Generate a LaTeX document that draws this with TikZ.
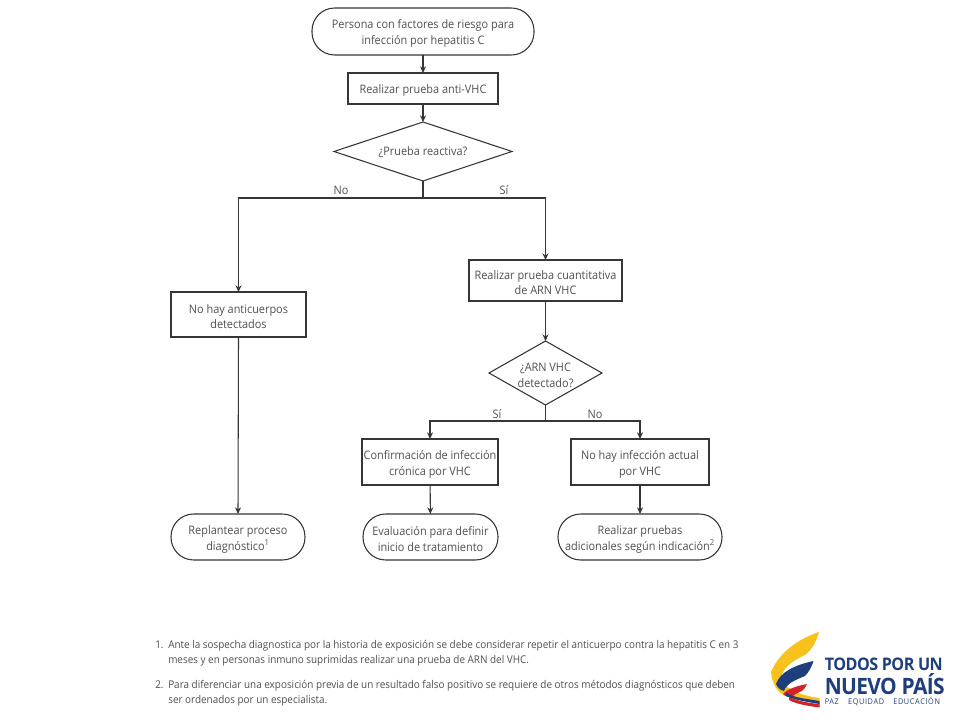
\documentclass[tikz,border=0pt]{standalone}
\usepackage{fontspec}
\usetikzlibrary{shapes.geometric,arrows.meta}
\setmainfont[FakeStretch=0.93]{Open Sans}
\definecolor{ink}{HTML}{363636}
\definecolor{txt}{HTML}{505050}
\definecolor{logoblue}{HTML}{1F3F7C}
\definecolor{logoyellow}{HTML}{F7C21C}
\definecolor{logored}{HTML}{D2232A}
\newcommand{\dn}{\rule{0pt}{10pt}}
\tikzset{
  x=0.75pt,y=-0.75pt,
  base/.style={draw=ink,line width=0.8pt,fill=white,text=txt,align=center,font=\fontsize{8.8pt}{11.8pt}\selectfont,inner sep=0pt,outer sep=0pt},
  boxnode/.style={base,rectangle},
  termnode/.style={base,rectangle,rounded corners=17pt},
  conn/.style={draw=ink,line width=0.8pt},
  arrow/.style={conn,-{Stealth[length=5pt,width=4.5pt]}},
  branch/.style={text=txt,font=\fontsize{8.8pt}{11pt}\selectfont,inner sep=0pt},
  note/.style={text=txt,anchor=base west,inner sep=0pt,font=\fontsize{8pt}{9pt}\selectfont},
}
\newcommand{\sized}[5]{\node[#1,minimum width=#4*0.75pt,minimum height=#5*0.75pt] (#2) at #3}
\begin{document}
\begin{tikzpicture}
\useasboundingbox (0,0) rectangle (960,720);
\fill[white] (0,0) rectangle (960,720);

\sized{termnode}{start}{(423,31.5)}{222}{47} {\dn Persona con factores de riesgo para\\infección por hepatitis C};
\sized{boxnode}{anti}{(423,88.5)}{150}{31} {\dn Realizar prueba anti-VHC};
\draw[base] (423,122) -- (512,151.5) -- (423,181) -- (334,151.5) -- cycle;
\node[text=txt,font=\fontsize{8.8pt}{11pt}\selectfont,inner sep=0pt] (d1) at (423,152.5) {¿Prueba reactiva?};
\coordinate (d1t) at (423,122);
\coordinate (d1b) at (423,181);
\coordinate (j1) at (423,198);

\sized{boxnode}{noac}{(238.5,314.5)}{135}{45} {\dn No hay anticuerpos\\detectados};
\sized{boxnode}{cuant}{(545.5,280.5)}{153}{41} {\dn Realizar prueba cuantitativa\\de ARN VHC};
\draw[base] (545.5,341) -- (602,373) -- (545.5,405) -- (489,373) -- cycle;
\node[text=txt,align=center,font=\fontsize{8.8pt}{11.8pt}\selectfont,inner sep=0pt] (d2) at (545.5,375) {¿ARN VHC\\detectado?};
\coordinate (d2t) at (545.5,341);
\coordinate (d2b) at (545.5,405);
\coordinate (j2) at (545.5,421);

\sized{boxnode}{conf}{(430,462)}{136}{46} {\dn Confirmación de infección\\crónica por VHC};
\sized{boxnode}{nohay}{(640,462)}{138}{46} {\dn No hay infección actual\\por VHC};
\sized{termnode}{replan}{(238,537)}{134}{46} {\dn Replantear proceso\\diagnóstico\textsuperscript{1}};
\sized{termnode}{eval}{(430.5,537)}{135}{46} {\dn Evaluación para definir\\inicio de tratamiento};
\sized{termnode}{adic}{(640,537)}{164}{46} {\dn Realizar pruebas\\adicionales según indicación\textsuperscript{2}};

\draw[arrow] (start) -- (anti);
\draw[arrow] (anti) -- (d1t);
\draw[conn] (d1b) -- (j1);
\draw[arrow] (j1) -| (noac.north);
\draw[arrow] (j1) -| (cuant.north);
\draw[arrow] (cuant) -- (d2t);
\draw[conn] (d2b) -- (j2);
\draw[arrow] (j2) -| (conf.north);
\draw[arrow] (j2) -| (nohay.north);
\draw[arrow] (noac.south) -- (replan.north);
\draw[arrow] (conf) -- (eval);
\draw[arrow] (nohay) -- (adic);

\node[branch] (lno1) at (341,190.5) {No};
\node[branch] (lsi1) at (504,190.5) {Sí};
\node[branch] (lsi2) at (497,414.5) {Sí};
\node[branch] (lno2) at (595,414.5) {No};

\node[note] (n1) at (155,648.5) {1.};
\node[note] (n1a) at (168,648.5) {Ante la sospecha diagnostica por la historia de exposición se debe considerar repetir el anticuerpo contra la hepatitis C en 3};
\node[note] (n1b) at (168,663.5) {meses y en personas inmuno suprimidas realizar una prueba de ARN del VHC.};
\node[note] (n2) at (155,688) {2.};
\node[note] (n2a) at (168,688) {Para diferenciar una exposición previa de un resultado falso positivo se requiere de otros métodos diagnósticos que deben};
\node[note] (n2b) at (168,703) {ser ordenados por un especialista.};

% logo
\fill[logoyellow] (819,632) .. controls (795,640) and (778,655) .. (771,672) .. controls (772,682) and (776,690) .. (782,694) .. controls (788,698) and (800,700) .. (819.5,704) -- (819.5,698) .. controls (805,696) and (790,692) .. (780,680) .. controls (783,668) and (790,662) .. (805,655) .. controls (812,650) and (816,642) .. cycle;
\fill[logoblue] (813.5,661) .. controls (795,665) and (780,672) .. (776,684) .. controls (778,688) and (780,690) .. (784,691) .. controls (786,684) and (795,680) .. (805,676) .. controls (809,672) and (812,666) .. cycle;
\fill[logored] (807,684) .. controls (797,686) and (787,689) .. (783,694) .. controls (786,697) and (789,697) .. (792,697) .. controls (795,694) and (799,692) .. (802,691) .. controls (804,689) and (806,687) .. cycle;
\fill[logoblue] (786,693) .. controls (795,698) and (808,699) .. (819.5,701) -- (819.5,704) .. controls (808,702) and (794,700) .. (786,696) -- cycle;
\fill[logored] (789,697) .. controls (798,701) and (808,703) .. (819.5,704) -- (819.5,707.5) .. controls (808,706) and (796,704) .. (789,700) -- cycle;

\node[anchor=west,inner sep=0pt,text=logoblue,font=\bfseries\fontsize{13pt}{14pt}\selectfont] (l1) at (824.5,664) {\addfontfeatures{LetterSpace=-3}TODOS POR UN};
\node[anchor=west,inner sep=0pt,text=logoblue,font=\bfseries\fontsize{16.9pt}{18pt}\selectfont] (l2) at (824.5,684) {\addfontfeatures{LetterSpace=-3}NUEVO PAÍS};
\node[anchor=west,inner sep=0pt,text=logoblue,font=\fontsize{5.9pt}{6pt}\selectfont] (l3) at (824.5,702) {\addfontfeatures{LetterSpace=8}PAZ\hspace{5pt} EQUIDAD\hspace{5pt} EDUCACIÓN};
\end{tikzpicture}
\end{document}
